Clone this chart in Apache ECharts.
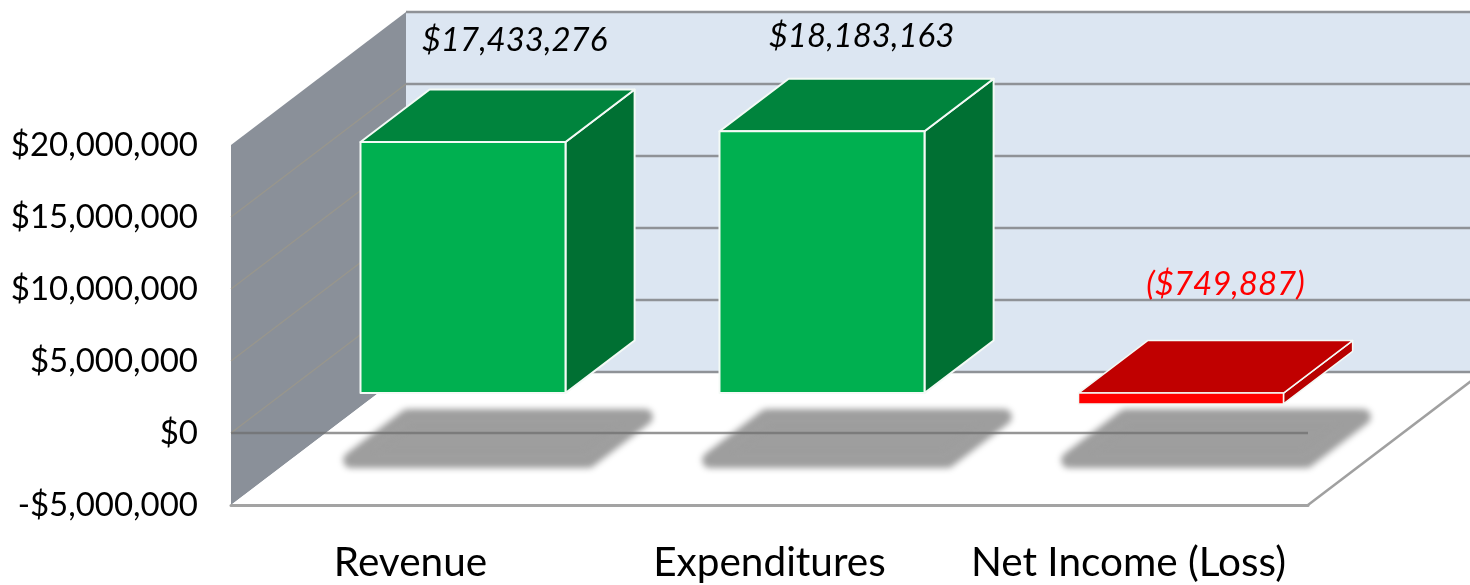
<!DOCTYPE html>
<html>
<head>
<meta charset="utf-8">
<style>html,body{margin:0;padding:0;background:#fff}#chart{width:1470px;height:585px}</style>
<script src="https://cdn.jsdelivr.net/npm/echarts@6/dist/echarts.min.js"></script>
</head>
<body>
<div id="chart"></div>
<script>
const categories = ['Revenue', 'Expenditures', 'Net Income (Loss)'];
const amounts = [17433276, 18183163, -749887];
const yTicks = [-5000000, 0, 5000000, 10000000, 15000000, 20000000];

const FONT = 'Lato';
const DX = 175, DY = 133;
const BAR_NEAR = 0.3, BAR_FAR = 0.695;
const BAR_HALF = 0.2855;
const LABEL_SHIFT = [[104, -102], [92, -95], [97, -109]];

function money(v) {
  const s = '$' + Math.abs(v).toLocaleString('en-US');
  return v < 0 ? '-' + s : s;
}
function dataText(v) {
  const s = '$' + Math.abs(v).toLocaleString('en-US');
  return v < 0 ? '(' + s + ')' : s;
}
function at(p, depth) { return [p[0] + DX * depth, p[1] - DY * depth]; }

function renderScene(params, api) {
  const g = params.coordSys;
  const tick = api.value(1);
  const left = g.x, right = g.x + g.width, top = g.y, bottom = g.y + g.height;
  const children = [];
  if (params.dataIndex === 0) {
    children.push({ type: 'rect', shape: { x: left + DX, y: top - DY, width: g.width, height: g.height }, style: { fill: '#dce6f2' } });
    children.push({ type: 'polygon', shape: { points: [[left, top], [left + DX, top - DY], [left + DX, bottom - DY], [left, bottom]] },
      style: { fill: '#8a9099' } });
    children.push({ type: 'polygon', shape: { points: [[left, bottom], [right, bottom], [right + DX, bottom - DY], [left + DX, bottom - DY]] }, style: { fill: '#ffffff' } });
    children.push({ type: 'line', shape: { x1: right, y1: bottom, x2: right + DX, y2: bottom - DY }, style: { stroke: '#a0a0a0', lineWidth: 2.5 } });
  }
  const y = api.coord([0, tick])[1];
  if (tick !== yTicks[0] && tick !== yTicks[yTicks.length - 1]) {
    children.push({ type: 'line', shape: { x1: left, y1: y, x2: left + DX, y2: y - DY }, style: { stroke: '#98968d', lineWidth: 1.5 } });
  }
  children.push({ type: 'line', shape: { x1: left + DX, y1: y - DY, x2: right + DX, y2: y - DY }, style: { stroke: '#8f9297', lineWidth: 2.5 } });
  return { type: 'group', children };
}

function renderShadow(params, api) {
  const c = api.coord([api.value(0), 0]);
  const band = api.size([1, 0])[0];
  const x = c[0];
  const base = params.coordSys.y + params.coordSys.height;
  const half = band * 0.33;
  const OFF = 3000;
  const pt = (ox, d) => [x + ox + DX * d - OFF, base - DY * d];
  const pts = [pt(-half, 0.338), pt(half, 0.338), pt(half, 0.662), pt(-half, 0.662)];
  return {
    type: 'polygon', shape: { points: pts },
    style: { fill: '#9e9e9e', stroke: '#9e9e9e', lineWidth: 16, lineJoin: 'round', shadowBlur: 6, shadowColor: '#9e9e9e', shadowOffsetX: OFF }
  };
}

function renderZero(params, api) {
  const g = params.coordSys;
  const y = api.coord([0, 0])[1];
  return { type: 'line', shape: { x1: g.x, y1: y, x2: g.x + g.width, y2: y }, style: { stroke: 'rgba(110,110,110,0.72)', lineWidth: 2.5 } };
}

function renderBar(params, api) {
  const i = api.value(0), v = api.value(1);
  const band = api.size([1, 0])[0];
  const c = api.coord([i, v]), z = api.coord([i, 0]);
  const half = band * BAR_HALF;
  const upper = Math.min(c[1], z[1]), lower = Math.max(c[1], z[1]);
  const L = c[0] - half, R = c[0] + half;
  const nTL = at([L, upper], BAR_NEAR), nTR = at([R, upper], BAR_NEAR), nBR = at([R, lower], BAR_NEAR), nBL = at([L, lower], BAR_NEAR);
  const fTL = at([L, upper], BAR_FAR), fTR = at([R, upper], BAR_FAR), fBR = at([R, lower], BAR_FAR);
  const neg = v < 0;
  const front = neg ? '#ff0000' : '#00b050', topC = neg ? '#c00000' : '#00843d', side = neg ? '#b80000' : '#007033';
  const stroke = { stroke: '#f4faf6', lineWidth: neg ? 1.5 : 2, lineJoin: 'round' };
  return {
    type: 'group',
    children: [
      { type: 'polygon', shape: { points: [nTR, fTR, fBR, nBR] }, style: Object.assign({ fill: side }, stroke) },
      { type: 'polygon', shape: { points: [nTL, fTL, fTR, nTR] }, style: Object.assign({ fill: topC }, stroke) },
      { type: 'polygon', shape: { points: [nTL, nTR, nBR, nBL] }, style: Object.assign({ fill: front }, stroke) }
    ]
  };
}

function renderLabel(params, api) {
  const i = api.value(0), v = api.value(1);
  const c = api.coord([i, Math.max(v, 0)]);
  const s = LABEL_SHIFT[i];
  const base = at(c, BAR_NEAR);
  return {
    type: 'text',
    style: {
      text: dataText(v), x: c[0] + s[0], y: base[1] + s[1],
      align: 'center', verticalAlign: 'middle',
      fontFamily: FONT, fontStyle: 'italic', fontSize: 33,
      fill: v < 0 ? '#ff0000' : '#000000'
    }
  };
}

const barData = amounts.map((v, i) => [i, v]);
const chart = echarts.init(document.getElementById('chart'), null, { renderer: 'canvas' });
chart.setOption({
  animation: false,
  backgroundColor: '#ffffff',
  grid: { left: 231, top: 145, width: 1077, height: 360, containLabel: false },
  xAxis: {
    type: 'category', data: categories, z: 20,
    axisLine: { onZero: false, lineStyle: { color: '#a3a3a3', width: 3 } },
    axisTick: { show: false },
    axisLabel: { margin: 37, fontFamily: FONT, fontSize: 40.5, color: '#000000', interval: 0 }
  },
  yAxis: {
    type: 'value', min: -5000000, max: 20000000, interval: 5000000,
    axisLine: { show: false }, axisTick: { show: false }, splitLine: { show: false },
    axisLabel: { margin: 33, fontFamily: FONT, fontSize: 33, color: '#000000', formatter: money, padding: [3, 0, 0, 0] }
  },
  series: [
    { type: 'custom', z: 1, silent: true, renderItem: renderScene, encode: { x: 0, y: 1 }, data: yTicks.map(t => [0, t]) },
    { type: 'custom', z: 2, silent: true, renderItem: renderShadow, encode: { x: 0, y: 1 }, data: barData },
    { type: 'custom', z: 3, silent: true, renderItem: renderZero, encode: { x: 0, y: 1 }, data: [[0, 0]] },
    { type: 'custom', z: 4, renderItem: renderBar, encode: { x: 0, y: 1 }, data: barData },
    { type: 'custom', z: 5, silent: true, renderItem: renderLabel, encode: { x: 0, y: 1 }, data: barData }
  ]
});
</script>
</body>
</html>
